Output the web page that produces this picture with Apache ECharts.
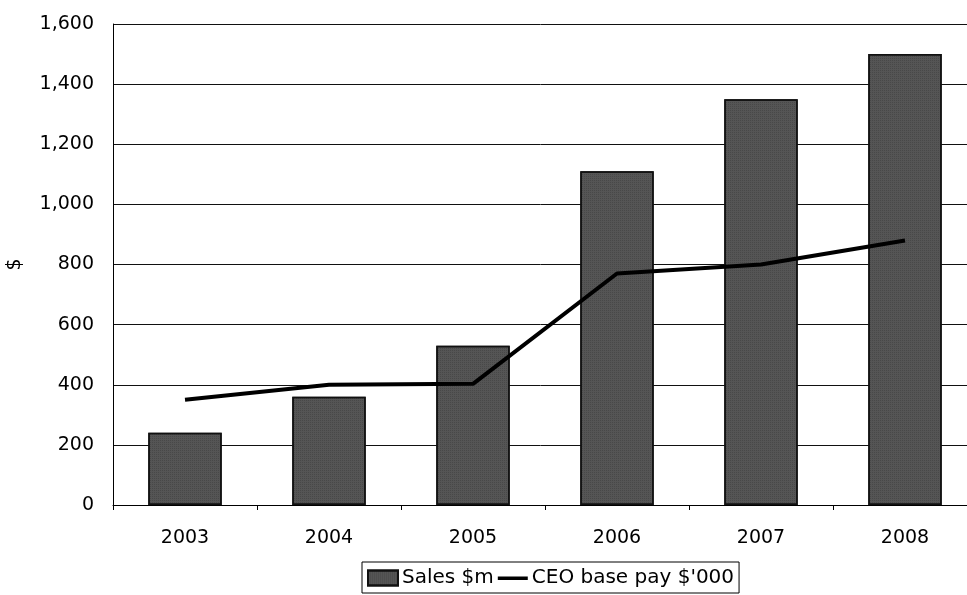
<!DOCTYPE html>
<html>
<head>
<meta charset="utf-8">
<script src="https://cdn.jsdelivr.net/npm/echarts@6/dist/echarts.min.js"></script>
<style>
  html, body { margin: 0; padding: 0; background: #fff; }
  #main { width: 967px; height: 595px; }
</style>
</head>
<body>
<div id="main"></div>
<script>
// data
var years = ['2003', '2004', '2005', '2006', '2007', '2008'];
var sales = [240, 360, 530, 1110, 1350, 1500];
var ceoPay = [350, 400, 403, 770, 800, 880];

var font = 'DejaVu Sans';
// thin line icon for the legend (tiny dots keep the box height)
var lineIcon = 'path://M0,0L0.01,0L0.01,0.01Z M0,6L30,6L30,9.5L0,9.5Z M0,15L0.01,15L0.01,15.01Z';

var myChart = echarts.init(document.getElementById('main'));
var option = {
    animation: false,
    backgroundColor: '#fff',
    textStyle: { fontFamily: font },
    grid: { left: 113, right: -10, top: 24, bottom: 90, outerBoundsMode: 'none', containLabel: false },
    legend: {
        top: 562,
        left: 362,
        itemGap: 4,
        itemWidth: 30,
        itemHeight: 15,
        borderColor: '#000',
        borderWidth: 1,
        padding: [6, 5, 5, 5],
        textStyle: { fontFamily: font, fontSize: 20, color: '#000', padding: [0, 0, 0, -1] },
        data: [
            { name: 'Sales $m', icon: 'rect' },
            { name: 'CEO base pay $\'000', icon: lineIcon }
        ]
    },
    xAxis: {
        type: 'category',
        data: years,
        axisLine: { lineStyle: { color: '#000', width: 1 } },
        axisTick: { show: true, length: 5, lineStyle: { color: '#000' } },
        axisLabel: { color: '#000', fontSize: 19, margin: 24, fontFamily: font }
    },
    yAxis: {
        type: 'value',
        min: 0,
        max: 1600,
        interval: 200,
        name: '$',
        nameLocation: 'middle',
        nameGap: 88,
        nameRotate: 90,
        nameTextStyle: { color: '#000', fontSize: 19, fontFamily: font },
        axisLine: { show: true, lineStyle: { color: '#000', width: 1 } },
        axisTick: { show: false },
        splitLine: { lineStyle: { color: '#111', width: 1 } },
        axisLabel: {
            color: '#000', fontSize: 19, margin: 19, fontFamily: font,
            formatter: function (v) { return v.toLocaleString('en-US'); }
        }
    },
    series: [
        {
            name: 'Sales $m',
            type: 'bar',
            data: sales,
            barWidth: '51%',
            itemStyle: {
                color: '#555',
                borderColor: '#111',
                borderWidth: 1.5,
                decal: {
                    symbol: 'rect',
                    symbolSize: 0.6,
                    dashArrayX: [1, 1],
                    dashArrayY: [1, 1],
                    color: 'rgba(20,20,20,0.6)'
                }
            }
        },
        {
            name: 'CEO base pay $\'000',
            type: 'line',
            data: ceoPay,
            symbol: 'none',
            lineStyle: { color: '#000', width: 4 },
            itemStyle: { color: '#000' }
        }
    ]
};
myChart.setOption(option);
</script>
</body>
</html>
